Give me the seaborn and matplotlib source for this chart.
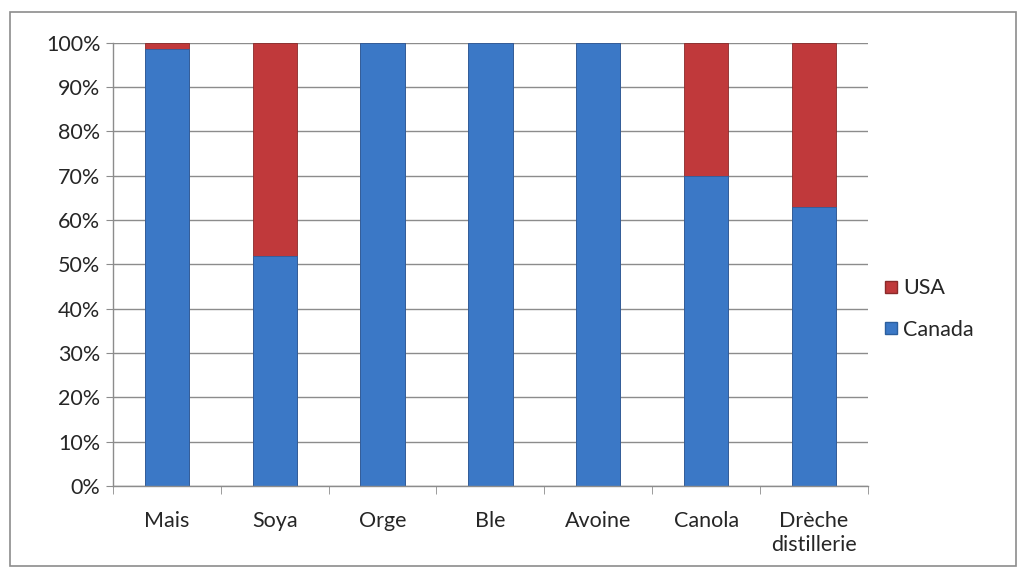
import numpy as np
import pandas as pd
import matplotlib.pyplot as plt
import seaborn as sns
from matplotlib.patches import Rectangle
from matplotlib.lines import Line2D

# data (share in %)
categories = ['Mais', 'Soya', 'Orge', 'Ble', 'Avoine', 'Canola', 'Drèche\ndistillerie']
canada = [98.5, 52, 100, 100, 100, 70, 63]
usa = [1.5, 48, 0, 0, 0, 30, 37]

df = pd.DataFrame({'cat': categories, 'Canada': canada, 'USA': usa})
df['total'] = df['Canada'] + df['USA']

blue = '#3b78c6'
red = '#c0393b'

sns.set_style("white")
plt.rcParams['font.family'] = ['Lato', 'DejaVu Sans']

fig = plt.figure(figsize=(10.26, 5.78), dpi=100)
ax = fig.add_axes([0.110, 0.159, 0.736, 0.767])

# stacked bars: total in red, Canada drawn over it
sns.barplot(data=df, x='cat', y='total', color=red, width=0.41, saturation=1,
            edgecolor='#8a2a2a', linewidth=0.6, ax=ax)
sns.barplot(data=df, x='cat', y='Canada', color=blue, width=0.41, saturation=1,
            edgecolor='#2c5f9e', linewidth=0.6, ax=ax)

ax.set_ylim(0, 100)
ax.set_xlim(-0.5, 6.5)
ax.set_yticks(np.arange(0, 101, 10))
ax.set_yticklabels([f'{v}%' for v in range(0, 101, 10)], fontsize=15.5)
ax.set_xticks(range(len(categories)))
ax.set_xticklabels(categories, fontsize=15.5, linespacing=1.25)
ax.set_xlabel('')
ax.set_ylabel('')

ax.yaxis.grid(True, color='#8c8c8c', linewidth=1)
ax.set_axisbelow(True)
for s in ['top', 'right']:
    ax.spines[s].set_visible(False)
for s in ['left', 'bottom']:
    ax.spines[s].set_color('#8c8c8c')
    ax.spines[s].set_linewidth(1)

ax.tick_params(axis='y', which='major', length=5, color='#8c8c8c', direction='out', left=True, pad=4)
ax.tick_params(axis='x', which='major', length=0, pad=18)
ax.set_xticks(np.arange(-0.5, 7, 1), minor=True)
ax.tick_params(axis='x', which='minor', length=6, color='#8c8c8c', direction='out', bottom=True)

handles = [Line2D([], [], marker='s', linestyle='', markersize=9, markerfacecolor=red,
                  markeredgecolor='#8a2a2a', label='USA'),
           Line2D([], [], marker='s', linestyle='', markersize=9, markerfacecolor=blue,
                  markeredgecolor='#2c5f9e', label='Canada')]
fig.legend(handles=handles, loc='center left', bbox_to_anchor=(0.850, 0.465), frameon=False,
           fontsize=15.5, handletextpad=0.05, labelspacing=1.0, borderaxespad=0,
           handlelength=1.0)

# outer chart border
fig.patches.append(Rectangle((0.010, 0.020), 0.980, 0.960, transform=fig.transFigure,
                             fill=False, edgecolor='#8c8c8c', linewidth=1.2))

fig.savefig('out.png', dpi=100)
